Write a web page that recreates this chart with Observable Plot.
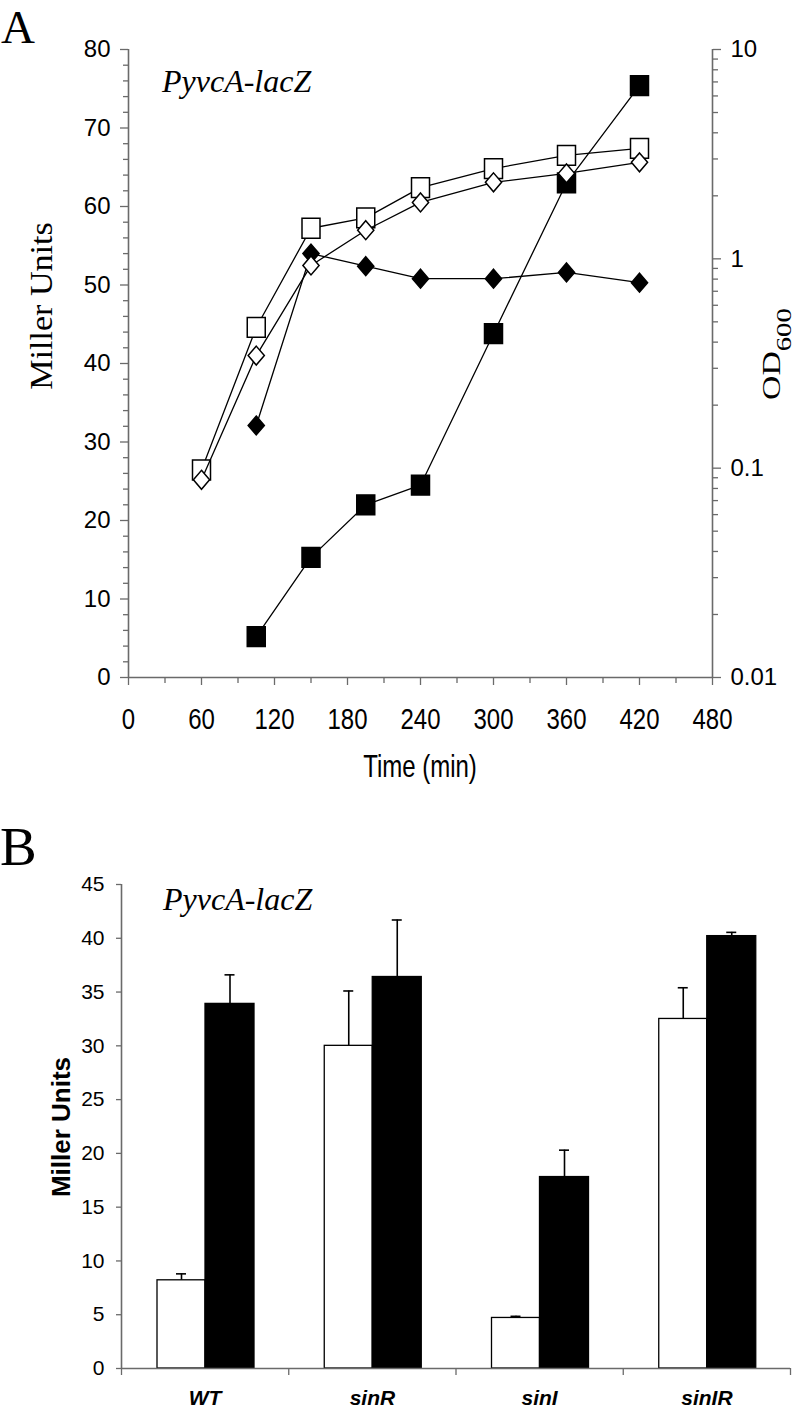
<!DOCTYPE html>
<html><head><meta charset="utf-8">
<script src="https://cdn.jsdelivr.net/npm/d3@7"></script>
<script src="https://cdn.jsdelivr.net/npm/@observablehq/plot@0.6"></script>
<style>
body{margin:0;background:#fff;}
#wrap{position:relative;width:800px;height:1410px;overflow:hidden;background:#fff;}
#wrap svg{position:absolute;left:0;}
</style></head><body><div id="wrap"></div>
<script>
// ---------- Panel A data ----------
const timesOpen = [60, 105, 150, 195, 240, 300, 360, 420];
const odOpenSquare = [0.098, 0.47, 1.40, 1.57, 2.19, 2.70, 3.12, 3.37];
const odOpenDiamond = [0.088, 0.345, 0.93, 1.37, 1.86, 2.32, 2.56, 2.89];
const timesFilled = [105, 150, 195, 240, 300, 360, 420];
const millerFilledDiamond = [32.1, 54.0, 52.4, 50.8, 50.8, 51.6, 50.3];
const millerFilledSquare = [5.2, 15.3, 22.0, 24.5, 43.8, 63.0, 75.4];
const xTicksA = [0, 60, 120, 180, 240, 300, 360, 420, 480];
const xMinorTicksA = [30, 90, 150, 210, 270, 330, 390, 450];
const yTicksA = [0, 10, 20, 30, 40, 50, 60, 70, 80];
const odMajorTicks = [0.01, 0.1, 1, 10];
const odMajorLabels = ["0.01", "0.1", "1", "10"];
const odMinorTicks = [0.02,0.03,0.04,0.05,0.06,0.07,0.08,0.09,0.2,0.3,0.4,0.5,0.6,0.7,0.8,0.9,2,3,4,5,6,7,8,9];

// ---------- Panel B data ----------
const strains = ["WT", "sinR", "sinI", "sinIR"];
const meanWhite = [8.2, 30.0, 4.7, 32.5];
const errWhite = [0.6, 5.1, 0.15, 2.9];
const meanBlack = [33.9, 36.4, 17.8, 40.2];
const errBlack = [2.7, 5.3, 2.5, 0.35];
const yTicksB = [0, 5, 10, 15, 20, 25, 30, 35, 40, 45];

const gray = "#6a6a6a";
const serif = "'Liberation Serif', 'Times New Roman', serif";
const sans = "'Liberation Sans', Arial, sans-serif";

// right (log OD) axis expressed on the left Miller-unit scale
const odToMiller = v => 80 * (Math.log10(v) + 2) / 3;
const rows = (xs, ys) => xs.map((t, i) => ({t, v: ys[i]}));
const sFilledSq = rows(timesFilled, millerFilledSquare);
const sFilledDi = rows(timesFilled, millerFilledDiamond);
const sOpenSq = rows(timesOpen, odOpenSquare.map(odToMiller));
const sOpenDi = rows(timesOpen, odOpenDiamond.map(odToMiller));

const symSquare = {draw(ctx, size) { const r = Math.sqrt(size / Math.PI); const w = r, h = r * 1.1;
  ctx.moveTo(-w, -h); ctx.lineTo(w, -h); ctx.lineTo(w, h); ctx.lineTo(-w, h); ctx.closePath(); }};
const symDiamond = {draw(ctx, size) { const r = Math.sqrt(size / Math.PI); const w = r * 0.9, h = r * 1.05;
  ctx.moveTo(0, -h); ctx.lineTo(w, 0); ctx.lineTo(0, h); ctx.lineTo(-w, 0); ctx.closePath(); }};

const lineOpt = {x: "t", y: "v", stroke: "black", strokeWidth: 1.3};
const dotOpt = (symbol, fill) => ({x: "t", y: "v", symbol, r: 9, fill, stroke: "black", strokeWidth: 1.5});
const odMajorMapped = odMajorTicks.map(odToMiller);
const yMinorA = d3.range(0, 81, 2).filter(v => v % 10 !== 0);

const plotA = Plot.plot({
  width: 800, height: 800,
  marginTop: 49, marginRight: 88, marginBottom: 123, marginLeft: 128,
  x: {domain: [0, 480], axis: null},
  y: {domain: [0, 80], axis: null},
  style: {fontFamily: sans, background: "white", color: "black"},
  marks: [
    Plot.axisX(xMinorTicksA, {tickSize: 6, stroke: gray, strokeWidth: 1.3, tickFormat: () => "", label: null}),
    Plot.axisX(xTicksA, {tickSize: 8, tickPadding: 22, stroke: gray, strokeWidth: 1.3, fill: "black", fontSize: 24, label: null, tickFormat: d => String(d)}),
    Plot.axisY(yMinorA, {tickSize: 5, stroke: gray, strokeWidth: 1.3, tickFormat: () => "", label: null}),
    Plot.axisY(yTicksA, {tickSize: 8, tickPadding: 10, stroke: gray, strokeWidth: 1.3, fill: "black", fontSize: 24, label: null, tickFormat: d => String(d)}),
    Plot.axisY(odMinorTicks.map(odToMiller), {anchor: "right", tickSize: 5, stroke: gray, strokeWidth: 1.3, tickFormat: () => "", label: null}),
    Plot.axisY(odMajorMapped, {anchor: "right", tickSize: 8, tickPadding: 10, stroke: gray, strokeWidth: 1.3, fill: "black", fontSize: 24, label: null,
      tickFormat: d => odMajorLabels[odMajorMapped.indexOf(d)]}),
    Plot.ruleY([0], {stroke: gray, strokeWidth: 1.6}),
    Plot.ruleX([0], {stroke: gray, strokeWidth: 1.6}),
    Plot.ruleX([480], {stroke: gray, strokeWidth: 1.6}),
    Plot.line(sFilledSq, lineOpt),
    Plot.dot(sFilledSq, dotOpt(symSquare, "black")),
    Plot.line(sFilledDi, lineOpt),
    Plot.dot(sFilledDi, dotOpt(symDiamond, "black")),
    Plot.line(sOpenSq, lineOpt),
    Plot.dot(sOpenSq, dotOpt(symSquare, "white")),
    Plot.line(sOpenDi, lineOpt),
    Plot.dot(sOpenDi, dotOpt(symDiamond, "white"))
  ]
});

// ---------- Panel B ----------
const bw = (800 - 121 - 10) / 4;
const wL = 36, wR = 84, bL = 84, bR = 133;   // bar edges inside each band (px)
const cW = (wL + wR) / 2, cB = (bL + bR) / 2;
const rowsB = (m, e) => strains.map((s, i) => ({s, v: m[i], e: e[i]}));
const bWhite = rowsB(meanWhite, errWhite);
const bBlack = rowsB(meanBlack, errBlack);

const plotB = Plot.plot({
  width: 800, height: 610,
  marginTop: 84, marginRight: 10, marginBottom: 42, marginLeft: 121,
  x: {type: "band", domain: strains, padding: 0, round: false, axis: null},
  y: {domain: [0, 45], axis: null},
  style: {fontFamily: sans, background: "white", color: "black"},
  marks: [
    Plot.ruleX(bWhite, {x: "s", y1: "v", y2: d => d.v + d.e, dx: cW - bw / 2, stroke: "black", strokeWidth: 1.6}),
    Plot.tickY(bWhite, {x: "s", y: d => d.v + d.e, insetLeft: cW - 5, insetRight: bw - cW - 5, stroke: "black", strokeWidth: 1.6}),
    Plot.ruleX(bBlack, {x: "s", y1: "v", y2: d => d.v + d.e, dx: cB - bw / 2, stroke: "black", strokeWidth: 1.6}),
    Plot.tickY(bBlack, {x: "s", y: d => d.v + d.e, insetLeft: cB - 5, insetRight: bw - cB - 5, stroke: "black", strokeWidth: 1.6}),
    Plot.barY(bWhite, {x: "s", y: "v", fill: "white", stroke: "black", strokeWidth: 1.3, insetLeft: wL, insetRight: bw - wR}),
    Plot.barY(bBlack, {x: "s", y: "v", fill: "black", stroke: "black", strokeWidth: 1.3, insetLeft: bL, insetRight: bw - bR}),
    Plot.ruleY([0], {stroke: gray, strokeWidth: 1.6}),
    Plot.ruleX([strains[0]], {x: d => d, dx: -bw / 2, stroke: gray, strokeWidth: 1.6}),
    Plot.axisX(strains, {tickSize: 7, dx: -bw / 2, stroke: gray, strokeWidth: 1.3, tickFormat: () => "", label: null}),
    Plot.axisX([strains[strains.length - 1]], {tickSize: 7, dx: bw / 2, stroke: gray, strokeWidth: 1.3, tickFormat: () => "", label: null}),
    Plot.axisX(strains, {tickSize: 0, tickPadding: 22, fill: "black", fontSize: 21, fontWeight: "bold", fontStyle: "italic", label: null}),
    Plot.axisY(yTicksB, {tickSize: 5, tickPadding: 12, stroke: gray, strokeWidth: 1.3, fill: "black", fontSize: 21, label: null, tickFormat: d => String(d)})
  ]
});

const wrap = document.getElementById("wrap");
plotA.style.top = "0px";
plotB.style.top = "800px";
wrap.appendChild(plotA);
wrap.appendChild(plotB);

// stretch x tick labels of panel A vertically (as in the reference)
function stretch(el, s) {
  const x = +el.getAttribute("x") || 0, y = +el.getAttribute("y") || 0;
  const t = el.getAttribute("transform") || "";
  el.setAttribute("transform", `${t} translate(${x},${y}) scale(1,${s}) translate(${-x},${-y})`);
}
d3.select(plotA).selectAll('g[aria-label="x-axis tick label"] text').each(function() { stretch(this, 1.26); });

// ---------- text annotations ----------
const sA = d3.select(plotA);
sA.append("text").attr("x", 1).attr("y", 43).attr("text-anchor", "start").style("font-family", serif).style("font-size", "47px").text("A");
sA.append("text").attr("x", 162).attr("y", 92).attr("text-anchor", "start").style("font-family", serif).style("font-style", "italic").style("font-size", "32px").text("PyvcA-lacZ");
sA.append("text").attr("transform", "translate(52,306) rotate(-90) scale(1.1,1)").attr("text-anchor", "middle")
  .style("font-family", serif).style("font-size", "31px").text("Miller Units");
const od = sA.append("text").attr("transform", "translate(780,400) rotate(-90) scale(1.3,1)").attr("text-anchor", "start").style("font-family", serif).style("font-size", "26px");
od.append("tspan").text("OD");
od.append("tspan").attr("dy", 11).style("font-size", "22px").text("600");
sA.append("g").attr("transform", "translate(420,755) scale(1,1.28)")
  .append("text").attr("text-anchor", "middle").attr("dy", "0.716em")
  .style("font-family", sans).style("font-size", "24px").text("Time (min)");

const sB = d3.select(plotB);
sB.append("text").attr("x", 0).attr("y", 65).attr("text-anchor", "start").style("font-family", serif).style("font-size", "55px").text("B");
sB.append("text").attr("x", 163).attr("y", 110).attr("text-anchor", "start").style("font-family", serif).style("font-style", "italic").style("font-size", "32px").text("PyvcA-lacZ");
sB.append("text").attr("transform", "translate(70,327) rotate(-90)").attr("text-anchor", "middle")
  .style("font-family", sans).style("font-weight", "bold").style("font-size", "26px").text("Miller Units");
</script>
</body></html>
